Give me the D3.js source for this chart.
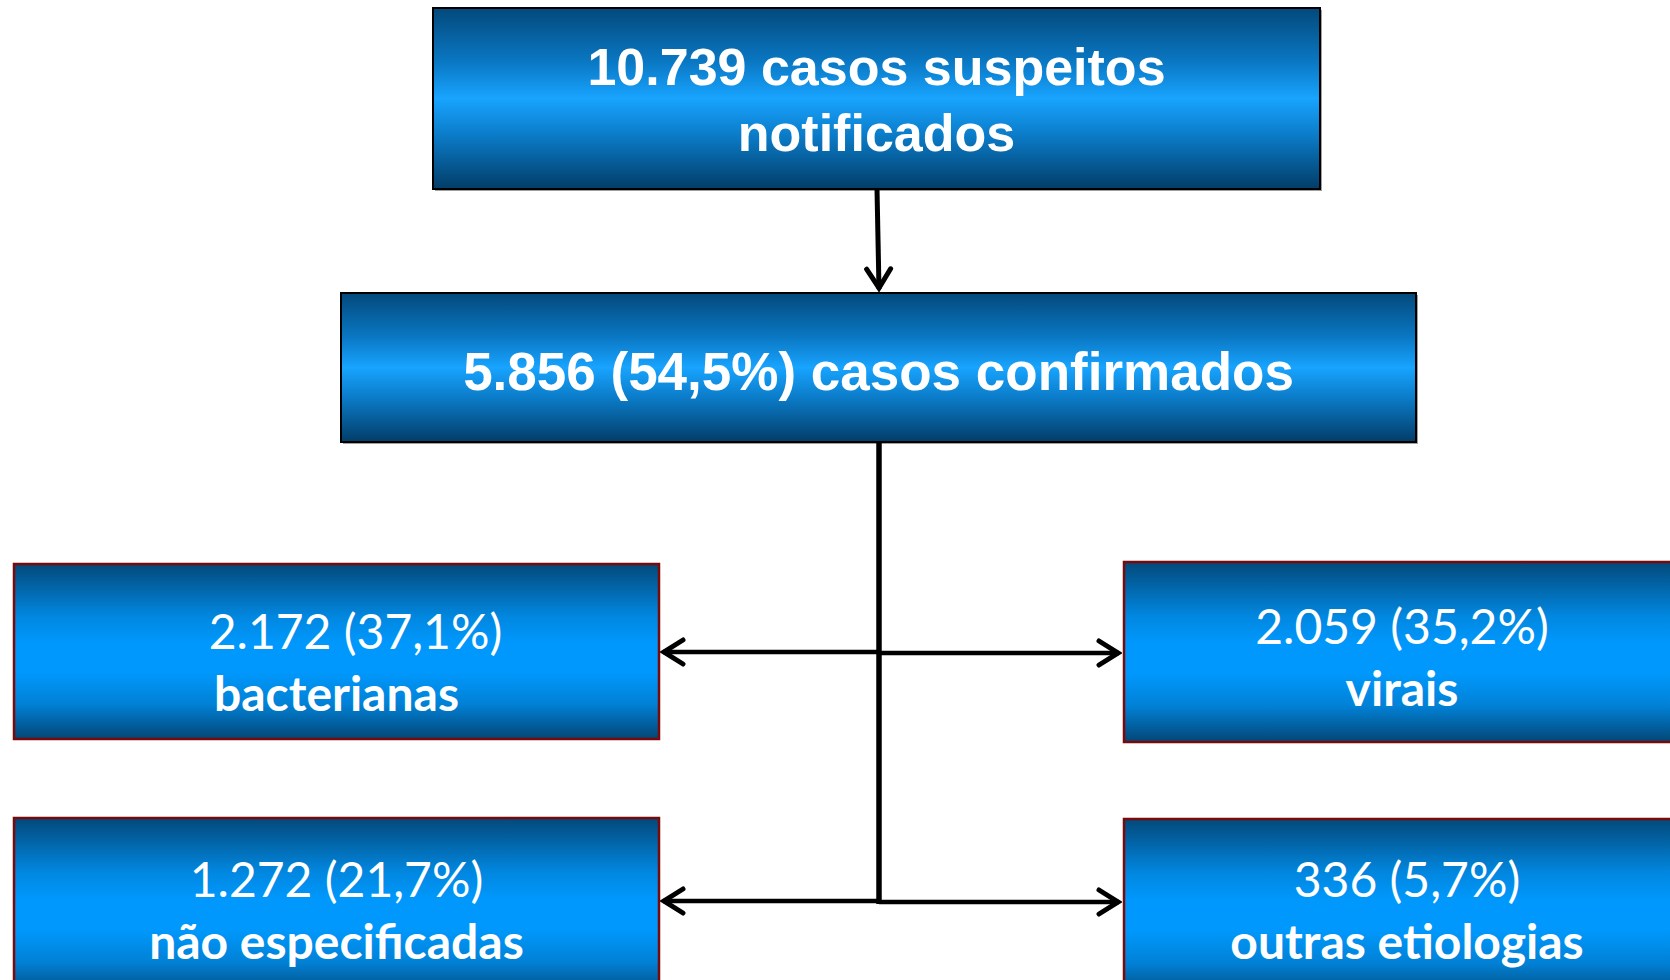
<!DOCTYPE html>
<html>
<head>
<meta charset="utf-8">
<script src="https://cdn.jsdelivr.net/npm/d3@7"></script>
<style>
  html, body { margin: 0; padding: 0; background: #fff; overflow: hidden; }
  #chart { width: 1670px; height: 980px; }
</style>
</head>
<body>
<div id="chart"></div>
<script>
// dados
const totalSuspeitos = 10739;
const totalConfirmados = 5856;
const pctConfirmados = "54,5%";
const etiologias = ["bacterianas", "virais", "não especificadas", "outras etiologias"];
const casosEtiologia = [2172, 2059, 1272, 336];
const pctEtiologia = ["37,1%", "35,2%", "21,7%", "5,7%"];

(function () {
  const W = 1670, H = 980;
  const br = d3.formatLocale({ decimal: ",", thousands: ".", grouping: [3], currency: ["R$", ""] });
  const fmt = br.format(",d");

  const svg = d3.select("#chart").append("svg")
    .attr("width", W).attr("height", H)
    .attr("viewBox", `0 0 ${W} ${H}`);

  const defs = svg.append("defs");

  const gTop = defs.append("linearGradient").attr("id", "gradTop")
    .attr("x1", 0).attr("y1", 0).attr("x2", 0).attr("y2", 1);
  [[0, "#03497b"], [0.3, "#0a78c4"], [0.5, "#18a4ff"], [0.7, "#0b7cc9"], [1, "#023d68"]]
    .forEach(([o, c]) => gTop.append("stop").attr("offset", o).attr("stop-color", c));

  const gSide = defs.append("linearGradient").attr("id", "gradSide")
    .attr("x1", 0).attr("y1", 0).attr("x2", 0).attr("y2", 1);
  [[0, "#03497a"], [0.3, "#0187e0"], [0.45, "#0098fc"], [0.62, "#0098fc"], [0.8, "#0181d6"], [1, "#034675"]]
    .forEach(([o, c]) => gSide.append("stop").attr("offset", o).attr("stop-color", c));

  // ponta de seta aberta, em unidades do desenho
  defs.append("marker")
    .attr("id", "arrow")
    .attr("viewBox", "-26 -16 30 32")
    .attr("refX", 1).attr("refY", 0)
    .attr("markerWidth", 30).attr("markerHeight", 32)
    .attr("markerUnits", "userSpaceOnUse")
    .attr("orient", "auto")
    .append("path")
    .attr("d", "M-19,-12 L0,0 L-19,12")
    .attr("fill", "none")
    .attr("stroke", "#000")
    .attr("stroke-width", 5)
    .attr("stroke-linecap", "round")
    .attr("stroke-linejoin", "miter");

  // caixas principais
  const mainBoxes = [
    { x: 433, y: 8, w: 887, h: 181, fs: 52,
      lines: [`${fmt(totalSuspeitos)} casos suspeitos`, "notificados"], ys: [67, 133] },
    { x: 341, y: 293, w: 1075, h: 149, fs: 53,
      lines: [`${fmt(totalConfirmados)} (${pctConfirmados}) casos confirmados`], ys: [371] }
  ];

  const mg = svg.append("g");
  mainBoxes.forEach(b => {
    mg.append("rect")
      .attr("x", b.x + 2).attr("y", b.y + 2)
      .attr("width", b.w).attr("height", b.h)
      .attr("fill", "#a0a0a0");
    mg.append("rect")
      .attr("x", b.x).attr("y", b.y)
      .attr("width", b.w).attr("height", b.h)
      .attr("fill", "url(#gradTop)")
      .attr("stroke", "#000").attr("stroke-width", 2);
    b.lines.forEach((t, i) => {
      mg.append("text")
        .attr("x", b.x + b.w / 2).attr("y", b.ys[i])
        .attr("text-anchor", "middle")
        .attr("dominant-baseline", "central")
        .attr("fill", "#fff")
        .attr("font-family", "'Liberation Sans', Arial, sans-serif")
        .attr("font-weight", "bold")
        .attr("font-size", b.fs + "px")
        .text(t);
    });
  });

  // caixas das etiologias
  const sideBoxes = [
    { x: 14, y: 564, w: 645, h: 175 },
    { x: 1124, y: 562, w: 566, h: 180 },
    { x: 14, y: 818, w: 645, h: 180 },
    { x: 1124, y: 819, w: 566, h: 180 }
  ];
  const lineOff = [[630, 692], [625, 687], [878, 940], [878, 940]];
  const dxFirst = [19, -5, 0, 0];
  const dxSecond = [0, -5, 0, 0];

  const sg = svg.append("g");
  sideBoxes.forEach((b, i) => {
    sg.append("rect")
      .attr("x", b.x).attr("y", b.y)
      .attr("width", b.w).attr("height", b.h)
      .attr("fill", "url(#gradSide)")
      .attr("stroke", "#7a0a0a").attr("stroke-width", 2.5);
    const cx = b.x + b.w / 2;
    sg.append("text")
      .attr("x", cx + dxFirst[i]).attr("y", lineOff[i][0])
      .attr("text-anchor", "middle")
      .attr("dominant-baseline", "central")
      .attr("fill", "#fff")
      .attr("font-family", "Lato, 'Open Sans', sans-serif")
      .attr("font-size", "48px")
      .text(`${fmt(casosEtiologia[i])} (${pctEtiologia[i]})`);
    sg.append("text")
      .attr("x", cx + dxSecond[i]).attr("y", lineOff[i][1])
      .attr("text-anchor", "middle")
      .attr("dominant-baseline", "central")
      .attr("fill", "#fff")
      .attr("font-family", "Lato, 'Open Sans', sans-serif")
      .attr("font-weight", "bold")
      .attr("font-size", "48px")
      .text(etiologias[i]);
  });

  // conectores
  const cg = svg.append("g")
    .attr("stroke", "#000").attr("fill", "none");

  cg.append("line")
    .attr("x1", 877).attr("y1", 189).attr("x2", 879).attr("y2", 289)
    .attr("stroke-width", 5)
    .attr("marker-end", "url(#arrow)");

  cg.append("line")
    .attr("x1", 879).attr("y1", 442).attr("x2", 879).attr("y2", 904)
    .attr("stroke-width", 5.5);

  const arrows = [
    [879, 652, 663, 652],
    [879, 653, 1119, 653],
    [879, 901, 663, 901],
    [879, 902, 1119, 902]
  ];
  arrows.forEach(a => {
    cg.append("line")
      .attr("x1", a[0]).attr("y1", a[1]).attr("x2", a[2]).attr("y2", a[3])
      .attr("stroke-width", 4.5)
      .attr("marker-end", "url(#arrow)");
  });
})();
</script>
</body>
</html>
